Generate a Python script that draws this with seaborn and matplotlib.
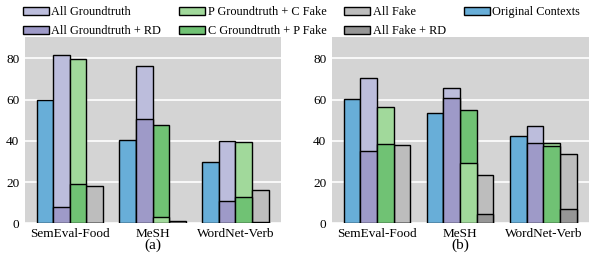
import matplotlib
matplotlib.use('Agg')
import matplotlib.pyplot as plt
import pandas as pd
import seaborn as sns
from matplotlib.patches import Patch

datasets = ['SemEval-Food', 'MeSH', 'WordNet-Verb']
slots = ['orig', 'gt', 'mix', 'fake']

# (a)
a_original = [60, 40.5, 30]
a_all_gt = [81.5, 76.5, 40]
a_all_gt_rd = [8, 50.5, 11]
a_p_gt_c_fake = [79.5, 3, 39.5]
a_c_gt_p_fake = [19, 47.5, 13]
a_all_fake = [18, 1, 16]
a_all_fake_rd = [0.2, 0.2, 0.5]

# (b)
b_original = [60.5, 53.5, 42.5]
b_all_gt = [70.5, 65.5, 47]
b_all_gt_rd = [35, 61, 39]
b_p_gt_c_fake = [56.5, 29.5, 39]
b_c_gt_p_fake = [38.5, 55, 37.5]
b_all_fake = [38, 23.5, 33.5]
b_all_fake_rd = [0.3, 4.5, 7]

series = [
    # name, slot, colour
    ('Original Contexts', 'orig', '#68aed8'),
    ('All Groundtruth', 'gt', '#bcbddc'),
    ('All Groundtruth + RD', 'gt', '#9e9ac8'),
    ('P Groundtruth + C Fake', 'mix', '#a1d99b'),
    ('C Groundtruth + P Fake', 'mix', '#70c274'),
    ('All Fake', 'fake', '#bdbdbd'),
    ('All Fake + RD', 'fake', '#969696'),
]

panels = {
    '(a)': [a_original, a_all_gt, a_all_gt_rd, a_p_gt_c_fake, a_c_gt_p_fake, a_all_fake, a_all_fake_rd],
    '(b)': [b_original, b_all_gt, b_all_gt_rd, b_p_gt_c_fake, b_c_gt_p_fake, b_all_fake, b_all_fake_rd],
}

plt.rcParams['font.family'] = ['Liberation Serif', 'DejaVu Serif']

fig = plt.figure(figsize=(5.89, 2.65), dpi=100)
axes = [fig.add_axes([0.0424, 0.157, 0.4346, 0.702]),
        fig.add_axes([0.5637, 0.157, 0.4363, 0.702])]

for ax, (caption, values) in zip(axes, panels.items()):
    ax.set_facecolor('#d4d4d4')
    for (name, slot, colour), vals in zip(series, values):
        df = pd.DataFrame({'dataset': datasets, 'value': vals, 'slot': slot})
        n_before = len(ax.patches)
        sns.barplot(data=df, x='dataset', y='value', hue='slot', hue_order=slots,
                    palette={s: colour for s in slots}, dodge=True, width=0.8,
                    saturation=1, errorbar=None, legend=False,
                    edgecolor='black', linewidth=1, ax=ax)
        # the shorter bar of an overlaid pair goes in front
        partner = [v for (n, s, c), v in zip(series, values) if s == slot and n != name]
        for i, bar in enumerate(ax.patches[n_before:]):
            front = bool(partner) and vals[i] < partner[0][i]
            bar.set_zorder(3 if front else 2)
    ax.set_xlim(-0.54, 2.55)
    ax.set_ylim(0, 90.2)
    ax.set_yticks([0, 20, 40, 60, 80])
    ax.grid(axis='y', color='white', linewidth=1.2, zorder=1)
    ax.set_axisbelow(True)
    for sp in ax.spines.values():
        sp.set_visible(False)
    ax.tick_params(length=0, labelsize=9.5)
    ax.tick_params(axis='y', pad=4)
    ax.tick_params(axis='x', pad=3)
    ax.set_xlabel(caption, fontsize=11, labelpad=-1)
    ax.set_ylabel('')

order = [1, 2, 3, 4, 5, 6, 0]
handles = [Patch(facecolor=series[i][2], edgecolor='black', linewidth=1) for i in order]
labels = [series[i][0] for i in order]
fig.legend(handles, labels, ncol=4, loc='upper left', bbox_to_anchor=(0.03, 0.995),
           frameon=False, fontsize=8.8, handlelength=2.15, handleheight=0.66,
           handletextpad=0.2, columnspacing=1.45, labelspacing=0.55,
           borderaxespad=0)

fig.savefig('out.png', dpi=100)
